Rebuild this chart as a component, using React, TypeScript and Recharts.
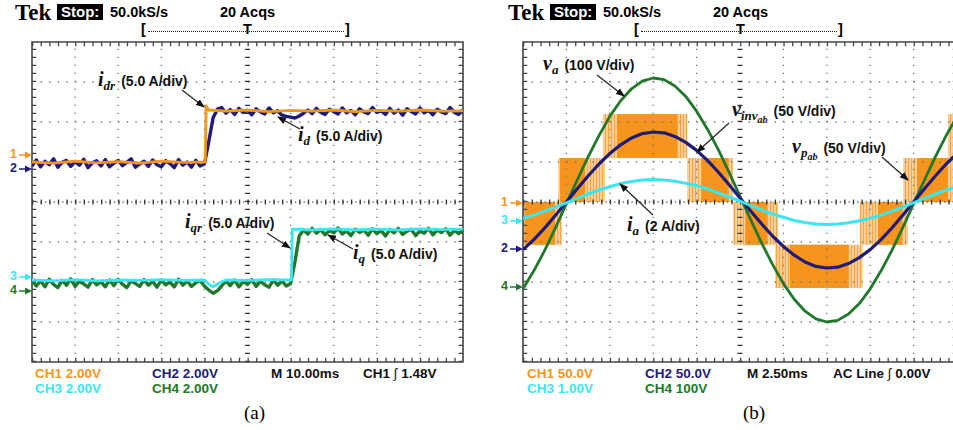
import React from "react";
import { ComposedChart, Line, XAxis, YAxis, ReferenceLine, ReferenceArea } from "recharts";

const ORANGE = "#f7941d";
const NAVY = "#1f1b7a";
const CYAN = "#3ae6f0";
const GREEN = "#22782a";
const SANS = '"Liberation Sans", Arial, sans-serif';
const SERIF = '"Liberation Serif", "Times New Roman", serif';

// graticule divisions (10 x 8 divisions per screen)
const DIVS_X = [1, 2, 3, 4, 6, 7, 8, 9];
const DIVS_Y = [-3, -2, -1, 1, 2, 3];

// ---- panel (a): dq currents, samples every 0.1 div ----
const idValues = [
  0.90, 1.05, 0.88, 1.02, 0.93, 1.08, 0.87, 0.99, 1.04, 0.89,
  1.01, 0.92, 1.07, 0.86, 0.98, 1.03, 0.90, 1.06, 0.88, 0.97,
  1.04, 0.91, 0.99, 1.08, 0.87, 0.95, 1.02, 0.89, 1.05, 0.93,
  0.88, 1.03, 0.96, 0.86, 1.06, 0.92, 1.00, 0.87, 1.04, 0.90,
  0.95, 1.50, 2.10, 2.32, 2.36, 2.22, 2.31, 2.19, 2.34, 2.24,
  2.29, 2.18, 2.33, 2.25, 2.20, 2.35, 2.23, 2.28, 2.17, 2.14,
  2.12, 2.10, 2.15, 2.22, 2.30, 2.21, 2.34, 2.24, 2.19, 2.32,
  2.26, 2.20, 2.35, 2.23, 2.29, 2.18, 2.33, 2.25, 2.21, 2.36,
  2.24, 2.28, 2.19, 2.34, 2.22, 2.30, 2.17, 2.33, 2.26, 2.20,
  2.35, 2.23, 2.29, 2.18, 2.32, 2.25, 2.21, 2.36, 2.24, 2.19,
  2.30,
];
const iqValues = [
  -1.95, -2.10, -1.97, -2.12, -1.93, -2.06, -2.14, -1.96, -2.08, -1.92,
  -2.11, -1.98, -2.05, -2.13, -1.94, -2.07, -1.99, -2.12, -1.95, -2.09,
  -1.93, -2.06, -2.14, -1.97, -2.04, -2.11, -1.94, -2.08, -1.98, -2.13,
  -1.95, -2.07, -2.00, -2.12, -1.93, -2.08, -1.97, -2.11, -2.02, -1.96,
  -2.10, -2.20, -2.28, -2.22, -2.10, -1.97, -2.09, -1.95, -2.12, -1.99,
  -2.06, -1.94, -2.11, -1.98, -2.07, -2.13, -1.95, -2.08, -1.97, -2.10,
  -2.04, -1.50, -0.85, -0.70, -0.80, -0.66, -0.78, -0.69, -0.82, -0.71,
  -0.77, -0.65, -0.80, -0.72, -0.84, -0.68, -0.76, -0.70, -0.83, -0.67,
  -0.79, -0.71, -0.85, -0.69, -0.77, -0.66, -0.81, -0.73, -0.68, -0.84,
  -0.72, -0.78, -0.66, -0.82, -0.70, -0.76, -0.67, -0.83, -0.71, -0.79,
  -0.69,
];
// reference currents: [time div, level div]
const idrPoints = [
  [0, 1.0], [0.5, 0.97], [1, 1.02], [1.5, 0.98], [2, 1.01], [2.5, 0.97], [3, 1.02], [3.5, 0.99],
  [4.02, 1.0], [4.04, 2.4], [4.1, 2.3], [4.5, 2.27], [5, 2.3], [5.5, 2.26], [6, 2.29], [6.5, 2.27],
  [7, 2.3], [7.5, 2.26], [8, 2.29], [8.5, 2.27], [9, 2.3], [9.5, 2.27], [10, 2.28],
];
const iqrPoints = [
  [0, -1.95], [0.5, -1.97], [1, -1.94], [1.5, -1.97], [2, -1.95], [2.5, -1.96], [3, -1.94], [3.5, -1.96],
  [4, -1.95], [4.1, -2.05], [4.2, -2.12], [4.35, -2.02], [4.5, -1.95], [5, -1.96], [5.5, -1.94],
  [6.02, -1.95], [6.04, -0.68], [6.5, -0.7], [7, -0.67], [7.5, -0.7], [8, -0.68], [8.5, -0.7],
  [9, -0.67], [9.5, -0.69], [10, -0.68],
];

// ---- panel (b): ac waveforms, samples every 0.25 div ----
const vaValues = [
  -2.17, -1.72, -1.21, -0.64, -0.04, 0.55, 1.13, 1.66, 2.14, 2.53, 2.83, 3.02, 3.1, 3.06, 2.9, 2.64,
  2.27, 1.82, 1.31, 0.74, 0.14, -0.45, -1.03, -1.56, -2.04, -2.43, -2.73, -2.92, -3.0, -2.96, -2.8,
  -2.54, -2.17, -1.72, -1.21, -0.64, -0.04, 0.55, 1.13, 1.66, 2.14,
];
const vinvValues = [
  -1.19, -0.94, -0.65, -0.33, 0.0, 0.33, 0.65, 0.95, 1.21, 1.43, 1.6, 1.71, 1.75, 1.73, 1.64, 1.49,
  1.29, 1.04, 0.75, 0.43, 0.1, -0.23, -0.55, -0.85, -1.11, -1.33, -1.5, -1.61, -1.65, -1.63, -1.54,
  -1.39, -1.19, -0.94, -0.65, -0.33, 0.0, 0.33, 0.65, 0.95, 1.21,
];
const iaValues = [
  -0.41, -0.33, -0.23, -0.13, -0.02, 0.09, 0.2, 0.3, 0.38, 0.46, 0.51, 0.55, 0.56, 0.55, 0.52, 0.47,
  0.41, 0.33, 0.23, 0.13, 0.02, -0.09, -0.2, -0.3, -0.38, -0.46, -0.51, -0.55, -0.56, -0.55, -0.52,
  -0.47, -0.41, -0.33, -0.23, -0.13, -0.02, 0.09, 0.2, 0.3, 0.38,
];
// multilevel pwm voltage: [from, to, low level, high level]
const pwmSpan = [
  [0, 0.9, -1.07, 0], [0.81, 1.89, 0, 1.1], [1.84, 3.78, 1.1, 2.2], [3.78, 4.84, 0, 1.1],
  [4.84, 5.88, -1.07, 0], [5.81, 7.83, -2.15, -1.07], [7.76, 8.87, -1.07, 0], [8.76, 9.91, 0, 1.1],
  [9.79, 10, 1.1, 2.2],
];
const pwmDense = [
  [0.05, 0.74, -1.07, 0], [0.85, 1.43, 0, 1.1], [2.17, 3.55, 1.1, 2.2], [4.12, 4.72, 0, 1.1],
  [5.12, 5.62, -1.07, 0], [6.15, 7.49, -2.15, -1.07], [8.18, 8.73, -1.07, 0], [9.08, 9.79, 0, 1.1],
];

const step = (vals: number[], dt: number) => vals.map((v, i) => ({ t: i * dt, v }));
const pairs = (pts: number[][]) => pts.map(([t, v]) => ({ t, v }));

function graticule(divPx: number) {
  const minor = divPx / 5;
  const hDash = `1.3 ${(minor - 1.3).toFixed(2)}`;
  const vDash = "1.3 6.7";
  const inset = 2.1 / divPx;
  return [
    ...DIVS_X.map((x) => (
      <ReferenceLine key={"gx" + x} x={x} stroke="#707070" strokeWidth={1.3} strokeDasharray={vDash} />
    )),
    ...DIVS_Y.map((y) => (
      <ReferenceLine key={"gy" + y} y={y} stroke="#707070" strokeWidth={1.3} strokeDasharray={hDash} />
    )),
    <ReferenceLine key="cyd" y={0} stroke="#666" strokeWidth={1.3} strokeDasharray={`1.3 ${(minor / 2 - 1.3).toFixed(2)}`} />,
    <ReferenceLine key="cx" x={5} stroke="#333" strokeWidth={5} strokeDasharray={vDash} />,
    <ReferenceLine key="cy" y={0} stroke="#333" strokeWidth={5} strokeDasharray={hDash} />,
    <ReferenceLine key="tl" x={inset} stroke="#444" strokeWidth={4.2} strokeDasharray={vDash} />,
    <ReferenceLine key="tr" x={10 - inset} stroke="#444" strokeWidth={4.2} strokeDasharray={vDash} />,
    <ReferenceLine key="tt" y={4 - 2.1 / 40} stroke="#444" strokeWidth={4.2} strokeDasharray={hDash} />,
    <ReferenceLine key="tb" y={-4 + 2.1 / 40} stroke="#444" strokeWidth={4.2} strokeDasharray={hDash} />,
    <ReferenceArea key="frame" x1={0} x2={10} y1={-4} y2={4} fill="none" stroke="#444" strokeWidth={1.6} />,
  ];
}

function Scope({ left, width, children }: { left: number; width: number; children: React.ReactNode }) {
  return (
    <div style={{ position: "absolute", left: left - 2, top: 40 }}>
      <ComposedChart width={width + 4} height={324} margin={{ top: 2, right: 2, bottom: 2, left: 2 }}>
        <XAxis type="number" dataKey="t" domain={[0, 10]} allowDataOverflow hide />
        <YAxis type="number" domain={[-4, 4]} allowDataOverflow hide />
        {children}
      </ComposedChart>
    </div>
  );
}

function Trace({ data, color, w }: { data: { t: number; v: number }[]; color: string; w: number }) {
  return (
    <Line data={data} dataKey="v" stroke={color} strokeWidth={w} strokeLinejoin="round" dot={false} activeDot={false} type="linear" isAnimationActive={false} />
  );
}

function Header({ x }: { x: number }) {
  const txt = { position: "absolute" as const, font: `bold 14.5px ${SANS}`, lineHeight: "17px", top: 4 };
  return (
    <>
      <div style={{ position: "absolute", left: x + 15, top: 1, font: `bold 23px ${SERIF}`, lineHeight: "24px" }}>Tek</div>
      <div style={{ position: "absolute", left: x + 57, top: 4, height: 16, background: "#000", color: "#fff", font: `bold 15px ${SANS}`, lineHeight: "16px", padding: "0 4px" }}>Stop:</div>
      <div style={{ ...txt, left: x + 110 }}>50.0kS/s</div>
      <div style={{ ...txt, left: x + 220 }}>20 Acqs</div>
      <div style={{ ...txt, left: x + 141, top: 21 }}>[</div>
      <div style={{ ...txt, left: x + 345, top: 21 }}>]</div>
      <div style={{ ...txt, left: x + 243, top: 21 }}>T</div>
      <div style={{ position: "absolute", left: x + 148, top: 31, width: 196, borderTop: "1.5px dotted #222" }} />
    </>
  );
}

function Txt({ x, y, color, children }: { x: number; y: number; color: string; children: React.ReactNode }) {
  return (
    <div style={{ position: "absolute", left: x, top: y, color, font: `bold 13.5px ${SANS}`, lineHeight: "15px", whiteSpace: "nowrap" }}>{children}</div>
  );
}

function Marker({ tip, y, n, color }: { tip: number; y: number; n: string; color: string }) {
  return (
    <>
      <div style={{ position: "absolute", left: tip - 22, top: y - 6, color, font: `bold 12.5px ${SANS}`, lineHeight: "11px" }}>{n}</div>
      <svg style={{ position: "absolute", left: tip - 13, top: y - 4 }} width={13} height={8}>
        <line x1={0} y1={4} x2={8} y2={4} stroke={color} strokeWidth={1.5} />
        <polygon points="6,0.5 13,4 6,7.5" fill={color} />
      </svg>
    </>
  );
}

function Note({ x, base, v, sub, subsub, text }: { x: number; base: number; v: string; sub: string; subsub?: string; text: string }) {
  const it = { fontFamily: SERIF, fontStyle: "italic" as const, fontWeight: "bold" as const };
  return (
    <div style={{ position: "absolute", left: x, top: base - 15, lineHeight: "19px", whiteSpace: "nowrap", color: "#111" }}>
      <span style={{ ...it, fontSize: 20 }}>{v}</span>
      <span style={{ ...it, fontSize: 13, position: "relative", top: 4 }}>
        {sub}
        {subsub && <span style={{ fontSize: 10, position: "relative", top: 3 }}>{subsub}</span>}
      </span>
      <span style={{ font: `bold 14px ${SANS}`, marginLeft: 6 }}>{text}</span>
    </div>
  );
}

const ARROWS = [
  [182, 90, 204, 107], [300, 129, 278, 117], [267, 233, 290, 248], [353, 249, 328, 235],
  [597, 75, 624, 96], [729, 123, 697, 152], [882, 157, 908, 180], [653, 215, 620, 184],
];

export default function App() {
  return (
    <div style={{ position: "fixed", left: 0, top: 0, width: 953, height: 430, overflow: "hidden", background: "#fff" }}>
      <svg width={0} height={0} style={{ position: "absolute" }}>
        <defs>
          <pattern id="pwm" patternUnits="userSpaceOnUse" width={3} height={10}>
            <rect width={3} height={10} fill="#fccf98" />
            <rect width={1} height={10} fill="#f8a443" />
          </pattern>
        </defs>
      </svg>

      <Header x={0} />
      <Header x={493} />

      <Scope left={32} width={431}>
        {graticule(43.1)}
        <Trace data={step(idValues, 0.1)} color={NAVY} w={3.4} />
        <Trace data={pairs(idrPoints)} color={ORANGE} w={2.8} />
        <Trace data={step(iqValues, 0.1)} color={GREEN} w={3.4} />
        <Trace data={pairs(iqrPoints)} color={CYAN} w={2.8} />
      </Scope>

      <Scope left={523} width={434}>
        {pwmSpan.map(([a, b, lo, hi], i) => (
          <ReferenceArea key={"ps" + i} x1={a} x2={b} y1={lo} y2={hi} fill="url(#pwm)" fillOpacity={1} stroke="none" />
        ))}
        {pwmDense.map(([a, b, lo, hi], i) => (
          <ReferenceArea key={"pd" + i} x1={a} x2={b} y1={lo} y2={hi} fill={ORANGE} fillOpacity={1} stroke="none" />
        ))}
        {graticule(43.4)}
        <Trace data={step(vaValues, 0.25)} color={GREEN} w={2.8} />
        <Trace data={step(vinvValues, 0.25)} color={NAVY} w={3.2} />
        <Trace data={step(iaValues, 0.25)} color={CYAN} w={3} />
      </Scope>

      <Marker tip={32} y={155} n="1" color={ORANGE} />
      <Marker tip={32} y={169} n="2" color={NAVY} />
      <Marker tip={32} y={277} n="3" color={CYAN} />
      <Marker tip={32} y={291} n="4" color={GREEN} />
      <Marker tip={523} y={203} n="1" color={ORANGE} />
      <Marker tip={523} y={221} n="3" color={CYAN} />
      <Marker tip={523} y={249} n="2" color={NAVY} />
      <Marker tip={523} y={287} n="4" color={GREEN} />

      <Note x={98} base={85} v="i" sub="dr" text="(5.0 A/div)" />
      <Note x={298} base={140} v="i" sub="d" text="(5.0 A/div)" />
      <Note x={185} base={227} v="i" sub="qr" text="(5.0 A/div)" />
      <Note x={353} base={258} v="i" sub="q" text="(5.0 A/div)" />
      <Note x={543} base={69} v="v" sub="a" text="(100 V/div)" />
      <Note x={732} base={115} v="v" sub="inv" subsub="ab" text="(50 V/div)" />
      <Note x={792} base={152} v="v" sub="p" subsub="ab" text="(50 V/div)" />
      <Note x={627} base={230} v="i" sub="a" text="(2 A/div)" />

      <svg width={953} height={430} style={{ position: "absolute", left: 0, top: 0, pointerEvents: "none" }}>
        <defs>
          <marker id="ah" markerWidth={9} markerHeight={8} refX={8} refY={4} orient="auto" markerUnits="userSpaceOnUse">
            <path d="M0,0.5 L9,4 L0,7.5 z" fill="#111" />
          </marker>
        </defs>
        {ARROWS.map(([x1, y1, x2, y2], i) => (
          <line key={i} x1={x1} y1={y1} x2={x2} y2={y2} stroke="#222" strokeWidth={1.2} markerEnd="url(#ah)" />
        ))}
      </svg>

      <Txt x={35} y={366} color={ORANGE}>CH1 2.00V</Txt>
      <Txt x={35} y={381} color={CYAN}>CH3 2.00V</Txt>
      <Txt x={152} y={366} color={NAVY}>CH2 2.00V</Txt>
      <Txt x={152} y={381} color={GREEN}>CH4 2.00V</Txt>
      <Txt x={271} y={366} color="#111">M 10.00ms</Txt>
      <Txt x={363} y={366} color="#111">CH1 <span style={{ fontWeight: "normal" }}>∫</span> 1.48V</Txt>
      <Txt x={527} y={366} color={ORANGE}>CH1 50.0V</Txt>
      <Txt x={527} y={381} color={CYAN}>CH3 1.00V</Txt>
      <Txt x={645} y={366} color={NAVY}>CH2 50.0V</Txt>
      <Txt x={645} y={381} color={GREEN}>CH4 100V</Txt>
      <Txt x={747} y={366} color="#111">M 2.50ms</Txt>
      <Txt x={833} y={366} color="#111">AC Line <span style={{ fontWeight: "normal" }}>∫</span> 0.00V</Txt>

      <div style={{ position: "absolute", left: 244, top: 403, font: `19px ${SERIF}`, lineHeight: "20px" }}>(a)</div>
      <div style={{ position: "absolute", left: 743, top: 403, font: `19px ${SERIF}`, lineHeight: "20px" }}>(b)</div>
    </div>
  );
}
